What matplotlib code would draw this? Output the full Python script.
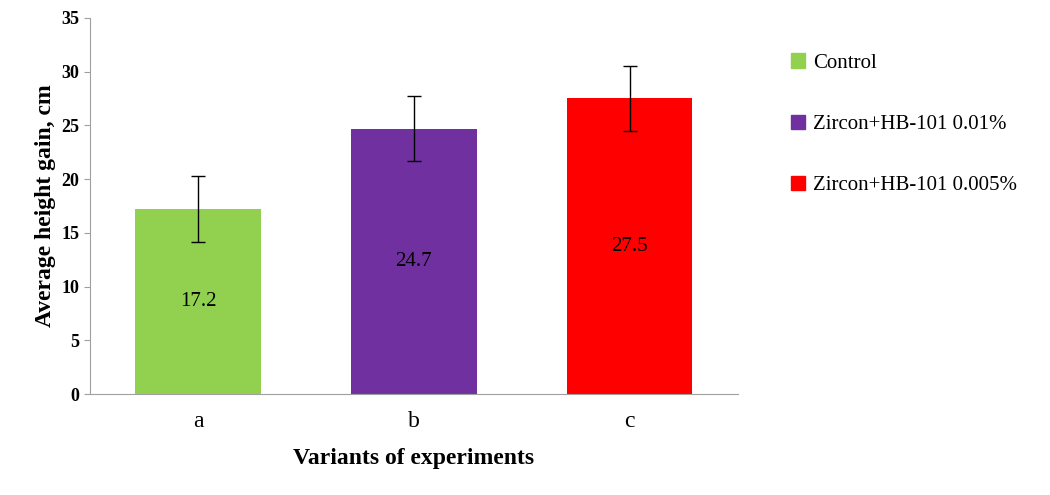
import numpy as np
import matplotlib.pyplot as plt
from matplotlib.patches import Patch

plt.rcParams['font.family'] = ['Liberation Serif', 'DejaVu Serif']

categories = ['a', 'b', 'c']
values = [17.2, 24.7, 27.5]
errors = [3.1, 3.05, 3.0]
series = ['Control', 'Zircon+HB-101 0.01%', 'Zircon+HB-101 0.005%']
colors = ['#92d050', '#7030a0', '#ff0000']

fig = plt.figure(figsize=(10.5, 4.95), dpi=100)
ax = fig.add_axes([0.0857, 0.204, 0.617, 0.76])
x = np.arange(len(categories))
ax.bar(x, values, width=0.58, color=colors, yerr=errors,
       error_kw=dict(ecolor='black', elinewidth=1, capsize=5, capthick=1))
for xi, v in zip(x, values):
    ax.text(xi, v / 2, f'{v}', ha='center', va='center', fontsize=15)

ax.set_xlim(-0.5, 2.5)
ax.set_ylim(0, 35)
ax.set_yticks(range(0, 36, 5))
ax.set_xticks(x)
ax.set_xticklabels(categories, fontsize=17)
for lab in ax.get_yticklabels():
    lab.set_fontweight('bold')
    lab.set_fontsize(13)
ax.tick_params(axis='x', length=0, pad=12)
ax.tick_params(axis='y', length=4, color='#a0a0a0')
for s in ['top', 'right']:
    ax.spines[s].set_visible(False)
for s in ['left', 'bottom']:
    ax.spines[s].set_color('#a0a0a0')
ax.set_ylabel('Average height gain, cm', fontsize=17, fontweight='bold')
ax.set_xlabel('Variants of experiments', fontsize=17, fontweight='bold', labelpad=12)

handles = [Patch(color=c, label=s) for c, s in zip(colors, series)]
fig.legend(handles=handles, loc='upper left', bbox_to_anchor=(0.735, 0.93),
           frameon=False, fontsize=15, labelspacing=2.0,
           handlelength=0.7, handleheight=0.7, handletextpad=0.4)

fig.savefig('out.png', dpi=100)
